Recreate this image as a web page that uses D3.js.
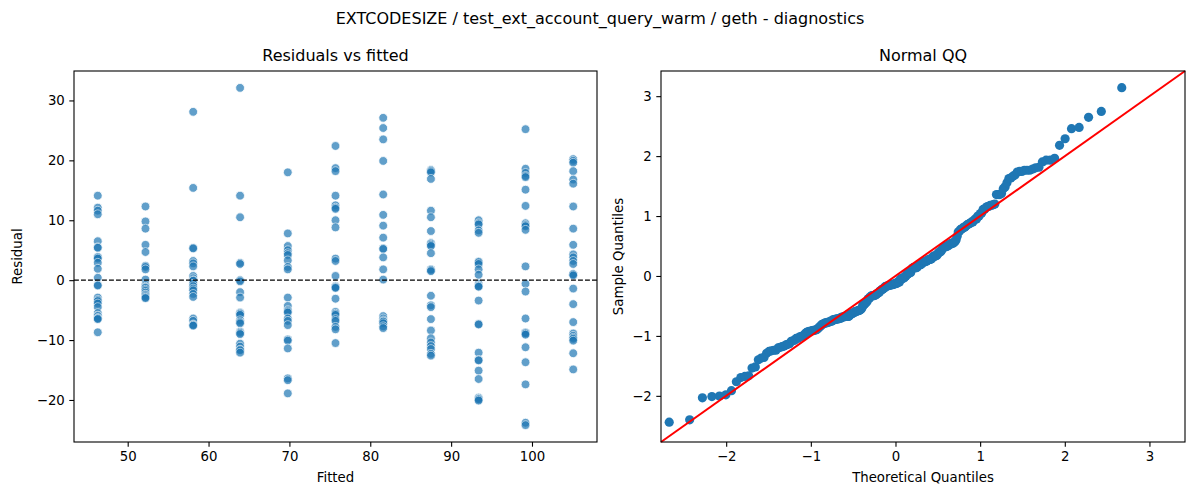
<!DOCTYPE html>
<html>
<head>
<meta charset="utf-8">
<script src="https://cdn.jsdelivr.net/npm/d3@7"></script>
<style>
  body { margin: 0; background: #fff; }
  svg { font-family: "DejaVu Sans", sans-serif; }
</style>
</head>
<body>
<div class="chart"></div>
<script>
// fitted value of each group and the residuals
var fitted = [46.3, 52.2, 58.1, 63.9, 69.8, 75.7, 81.6, 87.5, 93.4, 99.2, 105.1];

var res46 = [14.1, 12.1, 11.6, 11.0, 6.5, 5.5, 5.4, 3.9, 3.8, 3.6, 2.9, 1.9, 0.4, -0.8, -0.9, -2.9, -3.3, -3.5, -3.9, -4.5, -5.5, -5.9, -6.0, -6.3, -6.4, -6.5, -8.7];
var res52 = [12.3, 9.8, 8.6, 5.9, 4.7, 2.4, 2.2, 1.8, 0.1, -0.8, -1.1, -1.2, -1.3, -1.6, -1.8, -2.1, -2.4, -2.5, -2.7, -2.9, -3.0];
var res58 = [28.1, 15.4, 5.4, 5.3, 3.2, 2.8, 2.3, 0.7, 0.3, 0.0, -0.1, -0.6, -1.0, -1.4, -1.7, -2.3, -2.8, -6.4, -6.8, -7.4, -7.5, -7.6];
var res64 = [32.1, 14.1, 10.5, 2.9, 2.7, 0.0, -0.2, -2.0, -2.9, -5.4, -5.5, -5.6, -5.8, -6.7, -7.0, -7.2, -8.6, -8.8, -9.0, -10.6, -11.1, -11.6, -11.7, -12.1];
var res70 = [18.0, 7.8, 5.7, 5.0, 4.5, 4.2, 3.3, 2.2, 1.8, -2.9, -4.3, -5.0, -5.2, -5.4, -6.4, -6.8, -7.5, -9.9, -10.1, -11.4, -16.4, -16.7, -18.9];
var res76 = [22.4, 18.7, 18.2, 14.1, 12.5, 12.1, 11.9, 10.0, 8.8, 3.6, 3.2, 0.7, -1.0, -1.1, -1.2, -1.3, -3.1, -5.3, -5.6, -5.8, -6.5, -6.8, -7.8, -8.2, -10.5];
var res82 = [27.1, 25.4, 23.5, 19.9, 14.3, 10.9, 9.1, 7.1, 5.3, 5.2, 3.8, 1.8, 0.1, -6.0, -6.4, -6.7, -6.9, -6.9, -7.2, -7.7, -8.0];
var res88 = [18.4, 18.2, 18.0, 16.9, 11.6, 10.5, 8.2, 6.2, 6.1, 5.9, 5.7, 4.5, 1.8, 1.7, 1.5, -2.6, -4.2, -4.5, -6.5, -8.4, -9.7, -10.4, -11.0, -11.5, -12.3, -12.6];
var res93 = [10.0, 9.5, 9.3, 8.3, 7.9, 3.1, 3.0, 2.7, 1.8, 0.9, -0.6, -0.9, -1.0, -1.1, -3.4, -7.3, -7.4, -12.1, -13.3, -13.4, -15.1, -16.5, -19.6, -19.8, -19.9, -20.1];
var res99 = [25.2, 18.6, 17.9, 17.4, 17.2, 15.1, 12.4, 9.5, 9.2, 9.0, 8.4, 2.3, -0.6, -1.9, -6.4, -8.7, -8.8, -8.9, -9.1, -11.2, -13.7, -17.4, -23.8, -24.2];
var res105 = [20.2, 19.9, 19.6, 18.2, 16.8, 16.1, 12.3, 8.6, 5.9, 4.3, 3.8, 3.2, 2.7, 1.0, 1.0, 0.8, -1.4, -4.0, -7.0, -8.9, -9.3, -9.6, -9.8, -10.1, -12.2, -14.9];

var groups = [res46, res52, res58, res64, res70, res76, res82, res88, res93, res99, res105];

var xTicksLeft = [50, 60, 70, 80, 90, 100];
var yTicksLeft = [-20, -10, 0, 10, 20, 30];
var qqTicks = [-2, -1, 0, 1, 2, 3];
var qqLimits = [-2.77, 3.42];

var width = 1200, height = 500;
var blue = "#1f77b4";

// flatten into points
var points = [];
groups.forEach(function(g, i) {
  g.forEach(function(r) { points.push({fitted: fitted[i], resid: r}); });
});

// normal quantile function (Acklam)
function normInv(p) {
  var a = [-3.969683028665376e+01, 2.209460984245205e+02, -2.759285104469687e+02, 1.383577518672690e+02, -3.066479806614716e+01, 2.506628277459239e+00];
  var b = [-5.447609879822406e+01, 1.615858368580409e+02, -1.556989798598866e+02, 6.680131188771972e+01, -1.328068155288572e+01];
  var c = [-7.784894002430293e-03, -3.223964580411365e-01, -2.400758277161838e+00, -2.549732539343734e+00, 4.374664141464968e+00, 2.938163982698783e+00];
  var d = [7.784695709041462e-03, 3.224671290700398e-01, 2.445134137142996e+00, 3.754408661907416e+00];
  var plow = 0.02425, q, r;
  if (p < plow) {
    q = Math.sqrt(-2 * Math.log(p));
    return (((((c[0]*q+c[1])*q+c[2])*q+c[3])*q+c[4])*q+c[5]) / ((((d[0]*q+d[1])*q+d[2])*q+d[3])*q+1);
  }
  if (p > 1 - plow) {
    q = Math.sqrt(-2 * Math.log(1 - p));
    return -(((((c[0]*q+c[1])*q+c[2])*q+c[3])*q+c[4])*q+c[5]) / ((((d[0]*q+d[1])*q+d[2])*q+d[3])*q+1);
  }
  q = p - 0.5; r = q * q;
  return (((((a[0]*r+a[1])*r+a[2])*r+a[3])*r+a[4])*r+a[5])*q / (((((b[0]*r+b[1])*r+b[2])*r+b[3])*r+b[4])*r+1);
}

// QQ data: standardized sorted residuals vs normal quantiles i/(n+1)
var allRes = points.map(function(d) { return d.resid; }).sort(d3.ascending);
var n = allRes.length;
var mean = d3.mean(allRes);
var sd = Math.sqrt(d3.mean(allRes, function(v) { return (v - mean) * (v - mean); }));
var qq = allRes.map(function(v, i) {
  return {theo: normInv((i + 1) / (n + 1)), sample: (v - mean) / sd};
});

var svg = d3.select(".chart").append("svg")
  .attr("width", width)
  .attr("height", height);

svg.append("text")
  .attr("x", 600).attr("y", 24)
  .attr("text-anchor", "middle")
  .style("font-size", "16px")
  .text("EXTCODESIZE / test_ext_account_query_warm / geth - diagnostics");

function pad(ext) {
  var p = (ext[1] - ext[0]) * 0.05;
  return [ext[0] - p, ext[1] + p];
}

function styleAxis(sel) {
  sel.select(".domain").remove();
  sel.selectAll(".tick line").attr("stroke", "#000").attr("stroke-width", 1.1);
  sel.selectAll(".tick text")
    .attr("fill", "#000")
    .style("font-size", "13.3px")
    .style("font-family", "DejaVu Sans, sans-serif");
}

function drawFrame(g, w, h, x, y, xt, yt, title, xlab, ylab, ylabX) {
  var fmt = d3.format("d");
  g.append("g")
    .attr("transform", "translate(0," + h + ")")
    .call(d3.axisBottom(x).tickValues(xt).tickFormat(fmt).tickSizeOuter(0).tickSize(4.7).tickPadding(4.5))
    .call(styleAxis);
  g.append("g")
    .call(d3.axisLeft(y).tickValues(yt).tickFormat(fmt).tickSizeOuter(0).tickSize(4.7).tickPadding(4.5))
    .call(styleAxis);
  g.append("rect")
    .attr("width", w).attr("height", h)
    .attr("fill", "none").attr("stroke", "#000").attr("stroke-width", 1.1);
  g.append("text")
    .attr("x", w / 2).attr("y", -10)
    .attr("text-anchor", "middle")
    .style("font-size", "16px")
    .text(title);
  g.append("text")
    .attr("x", w / 2).attr("y", h + 40)
    .attr("text-anchor", "middle")
    .style("font-size", "13.3px")
    .text(xlab);
  g.append("text")
    .attr("transform", "translate(" + ylabX + "," + (h / 2) + ") rotate(-90)")
    .attr("text-anchor", "middle")
    .style("font-size", "13.3px")
    .text(ylab);
}

// ---- Residuals vs fitted ----
var left = {x: 74, y: 71, w: 523, h: 371};
var g1 = svg.append("g").attr("transform", "translate(" + left.x + "," + left.y + ")");

var x1 = d3.scaleLinear()
  .domain(pad(d3.extent(points, function(d) { return d.fitted; })))
  .range([0, left.w]);
var y1 = d3.scaleLinear()
  .domain(pad(d3.extent(points, function(d) { return d.resid; })))
  .range([left.h, 0]);

g1.append("g").selectAll("circle")
  .data(points)
  .enter().append("circle")
  .attr("cx", function(d) { return x1(d.fitted); })
  .attr("cy", function(d) { return y1(d.resid); })
  .attr("r", 4.4)
  .attr("fill", blue)
  .attr("stroke", "#fff")
  .attr("stroke-width", 0.8)
  .attr("opacity", 0.7);

g1.append("line")
  .attr("x1", 0).attr("x2", left.w)
  .attr("y1", y1(0)).attr("y2", y1(0))
  .attr("stroke", "#000")
  .attr("stroke-width", 1.3)
  .attr("stroke-dasharray", "4.9,2.1");

drawFrame(g1, left.w, left.h, x1, y1, xTicksLeft, yTicksLeft,
  "Residuals vs fitted", "Fitted", "Residual", -52);

// ---- Normal QQ ----
var right = {x: 661, y: 71, w: 524, h: 371};
var g2 = svg.append("g").attr("transform", "translate(" + right.x + "," + right.y + ")");

var x2 = d3.scaleLinear().domain(qqLimits).range([0, right.w]);
var y2 = d3.scaleLinear().domain(qqLimits).range([right.h, 0]);

g2.append("g").selectAll("circle")
  .data(qq)
  .enter().append("circle")
  .attr("cx", function(d) { return x2(d.theo); })
  .attr("cy", function(d) { return y2(d.sample); })
  .attr("r", 4.6)
  .attr("fill", blue);

g2.append("line")
  .attr("x1", x2(qqLimits[0])).attr("y1", y2(qqLimits[0]))
  .attr("x2", x2(qqLimits[1])).attr("y2", y2(qqLimits[1]))
  .attr("stroke", "#ff0000")
  .attr("stroke-width", 2);

drawFrame(g2, right.w, right.h, x2, y2, qqTicks, qqTicks,
  "Normal QQ", "Theoretical Quantiles", "Sample Quantiles", -38);
</script>
</body>
</html>
